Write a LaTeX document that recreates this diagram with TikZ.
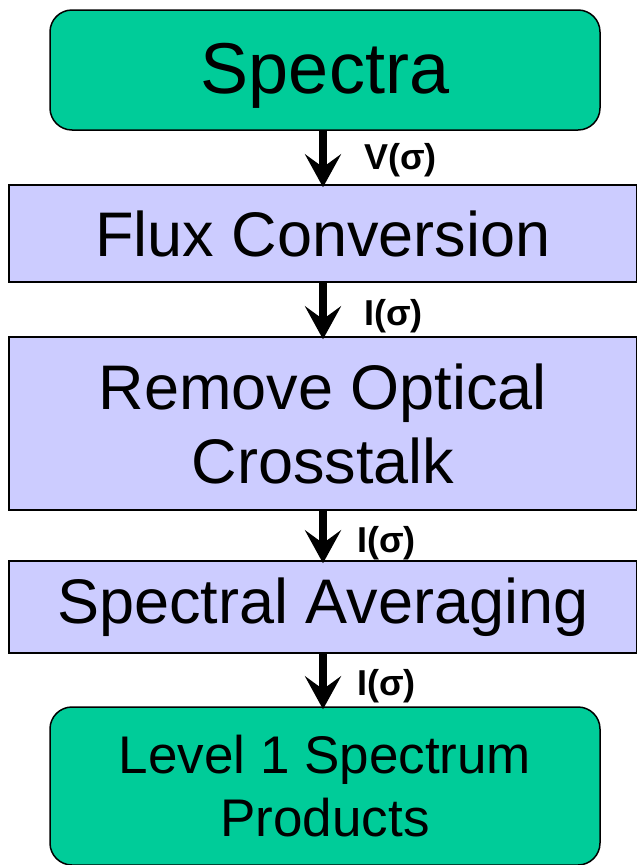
\documentclass[tikz,border=0pt]{standalone}
\usepackage{fontspec}
\setmainfont{Liberation Sans}
\usetikzlibrary{arrows.meta,calc}
\definecolor{stagegreen}{HTML}{00CC99}
\definecolor{stepblue}{HTML}{CCCCFF}
\tikzset{
  endbox/.style={draw=black, line width=1.5pt, fill=stagegreen, rounded corners=22pt,
    inner sep=0pt, align=center, text=black},
  stepbox/.style={draw=black, line width=1.5pt, fill=stepblue, inner sep=0pt,
    align=center, text=black},
  flow/.style={line width=7.5pt, -{Stealth[length=33pt, width=36pt, inset=13pt]}},
  sig/.style={anchor=west, font=\fontsize{36}{42}\selectfont\bfseries, inner sep=0pt}
}
\begin{document}
\begin{tikzpicture}[x=1pt, y=-1pt]
  \useasboundingbox (0,0) rectangle (637,865);

  \node[endbox, minimum width=550pt, minimum height=120pt,
        font=\fontsize{72}{80}\selectfont] (spectra) at (325,70)
        {\raisebox{-6pt}[\height][\depth]{Spectra}};
  \node[stepbox, minimum width=628pt, minimum height=97pt,
        font=\fontsize{63}{74}\selectfont] (flux) at (323,233.5) {Flux Conversion};
  \node[stepbox, minimum width=628pt, minimum height=173pt,
        font=\fontsize{63}{74}\selectfont] (cross) at (323,423.5) {Remove Optical\\Crosstalk};
  \node[stepbox, minimum width=628pt, minimum height=92pt,
        font=\fontsize{63}{74}\selectfont] (avg) at (323,607) {Spectral Averaging};
  \node[endbox, minimum width=550pt, minimum height=158pt,
        font=\fontsize{53}{63}\selectfont] (level) at (325,786) {Level 1 Spectrum\\Products};

  \draw[flow] (spectra.south -| flux.north) -- ([yshift=-3pt]flux.north);
  \draw[flow] (flux.south) -- ([yshift=-3pt]cross.north);
  \draw[flow] (cross.south) -- ([yshift=-3pt]avg.north);
  \draw[flow] (avg.south) -- ([yshift=-3pt]avg.south |- level.north);

  \node[sig] (l1) at (364,160) {V(σ)};
  \node[sig] (l2) at (364,316) {I(σ)};
  \node[sig] (l3) at (357,543) {I(σ)};
  \node[sig] (l4) at (357,686) {I(σ)};
\end{tikzpicture}
\end{document}
